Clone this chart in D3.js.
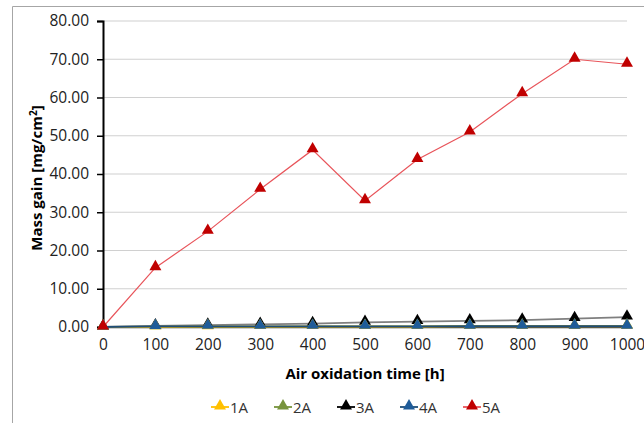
<!DOCTYPE html>
<html>
<head>
<meta charset="utf-8">
<script src="https://cdn.jsdelivr.net/npm/d3@7"></script>
<style>
  body { margin: 0; background: #fff; }
  svg { font-family: "Open Sans", sans-serif; }
</style>
</head>
<body>
<script>
// oxidation times and mass gain per alloy
var hours = [0, 100, 200, 300, 400, 500, 600, 700, 800, 900, 1000];
var s1A = [0, 0.05, 0.08, 0.1, 0.1, 0.12, 0.12, 0.14, 0.15, 0.15, 0.16];
var s2A = [0, 0.08, 0.1, 0.12, 0.14, 0.15, 0.18, 0.3, 0.3, 0.3, 0.3];
var s3A = [0, 0.3, 0.5, 0.7, 0.9, 1.2, 1.4, 1.6, 1.8, 2.2, 2.6];
var s4A = [0, 0.15, 0.18, 0.18, 0.18, 0.18, 0.18, 0.2, 0.2, 0.2, 0.2];
var s5A = [0, 15.5, 25.0, 36.0, 46.3, 33.0, 43.8, 51.0, 61.0, 70.0, 68.7];
var yTicks = [0, 10, 20, 30, 40, 50, 60, 70, 80];

var series = [
  {name: '1A', values: s1A, line: '#FFC000', mark: '#FFC000'},
  {name: '2A', values: s2A, line: '#77933C', mark: '#77933C'},
  {name: '3A', values: s3A, line: '#7f7f7f', mark: '#000000'},
  {name: '4A', values: s4A, line: '#1F4E79', mark: '#1F5C99'},
  {name: '5A', values: s5A, line: '#E8545A', mark: '#C00000'}
];

var w = 644, h = 423;
var svg = d3.select('body').append('svg')
  .attr('width', w).attr('height', h);

// chart frame
svg.append('path')
  .attr('d', 'M12.5,' + h + 'V6.5H' + w)
  .attr('fill', 'none').attr('stroke', '#a6a6a6').attr('stroke-width', 1);

var x = d3.scaleLinear().domain([0, 1000]).range([103, 627]);
var y = d3.scaleLinear().domain([0, 80]).range([327, 21]);

// gridlines
svg.append('g').selectAll('line')
  .data(yTicks.filter(function(d) { return d > 0; }))
  .enter().append('line')
  .attr('x1', 103).attr('x2', 627)
  .attr('y1', function(d) { return y(d); })
  .attr('y2', function(d) { return y(d); })
  .attr('stroke', '#d0d0d0').attr('stroke-width', 1.2);

// y axis
var yAxis = svg.append('g')
  .attr('transform', 'translate(103,0)')
  .call(d3.axisLeft(y).tickValues(yTicks).tickFormat(d3.format('.2f')).tickSize(6).tickPadding(8));
yAxis.select('.domain').attr('stroke', '#000').attr('stroke-width', 2);
yAxis.selectAll('.tick line').attr('stroke', '#000').attr('stroke-width', 1.5);
yAxis.selectAll('text').attr('font-size', 15.5).attr('fill', '#222')
  .attr('font-family', '"Open Sans", sans-serif');

// x axis
var xAxis = svg.append('g')
  .attr('transform', 'translate(0,327)')
  .call(d3.axisBottom(x).tickValues(hours).tickFormat(d3.format('d')).tickSize(0).tickPadding(12));
xAxis.select('.domain').attr('stroke', '#404040').attr('stroke-width', 1.5);
xAxis.selectAll('text').attr('font-size', 15.5).attr('fill', '#222')
  .attr('font-family', '"Open Sans", sans-serif');

// axis titles
svg.append('text')
  .attr('x', 365).attr('y', 379)
  .attr('text-anchor', 'middle')
  .attr('font-size', 15).attr('font-weight', 'bold')
  .text('Air oxidation time [h]');

svg.append('text')
  .attr('transform', 'translate(42,178) rotate(-90)')
  .attr('text-anchor', 'middle')
  .attr('font-size', 15).attr('font-weight', 'bold')
  .html('Mass gain [mg/cm<tspan font-size="10" dy="-5">2</tspan><tspan dy="5">]</tspan>');

var line = d3.line()
  .x(function(d, i) { return x(hours[i]); })
  .y(function(d) { return y(d); });

var tri = d3.symbol().type(d3.symbolTriangle).size(62);

var drawOrder = [2, 1, 0, 3, 4];
drawOrder.forEach(function(k) {
  var s = series[k];
  var g = svg.append('g');
  g.append('path')
    .attr('d', line(s.values))
    .attr('fill', 'none')
    .attr('stroke', s.line)
    .attr('stroke-width', k === 4 ? 1.2 : 1.8);
  g.selectAll('path.m')
    .data(s.values)
    .enter().append('path')
    .attr('class', 'm')
    .attr('d', tri)
    .attr('transform', function(d, i) {
      return 'translate(' + x(hours[i]) + ',' + (y(d) - 1) + ')';
    })
    .attr('fill', s.mark);
});

// legend
var legend = svg.append('g').attr('transform', 'translate(0,407)');
var item = legend.selectAll('g')
  .data(series)
  .enter().append('g')
  .attr('transform', function(d, i) { return 'translate(' + (220 + i * 63) + ',0)'; });
item.append('line')
  .attr('x1', -9).attr('x2', 9)
  .attr('stroke', function(d) { return d.line === '#7f7f7f' ? '#000' : d.line; })
  .attr('stroke-width', 1.8);
item.append('path')
  .attr('d', tri)
  .attr('transform', 'translate(0,-1)')
  .attr('fill', function(d) { return d.mark; });
item.append('text')
  .attr('x', 10).attr('y', 5.5)
  .attr('font-size', 15).attr('fill', '#333')
  .text(function(d) { return d.name; });
</script>
</body>
</html>
